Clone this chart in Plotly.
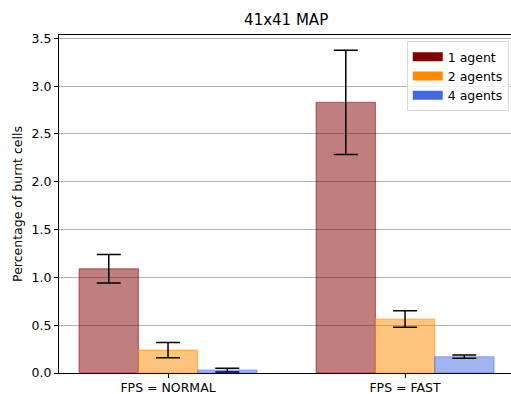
import plotly.graph_objects as go

categories = ["FPS = NORMAL", "FPS = FAST"]
series_names = ["1 agent", "2 agents", "4 agents"]
means = {
    "1 agent": [1.09, 2.83],
    "2 agents": [0.24, 0.565],
    "4 agents": [0.03, 0.17],
}
errors = {
    "1 agent": [0.15, 0.545],
    "2 agents": [0.08, 0.087],
    "4 agents": [0.02, 0.017],
}
colors = {
    "1 agent": (128, 0, 0),
    "2 agents": (255, 140, 0),
    "4 agents": (65, 105, 225),
}
bar_width = 0.25
offsets = [-0.375, -0.125, 0.125]

FS = 12.5
xpos = list(range(len(categories)))
fig = go.Figure()
for name, off in zip(series_names, offsets):
    r, g, b = colors[name]
    fig.add_trace(go.Bar(
        x=xpos, y=means[name], width=bar_width, offset=off,
        marker=dict(color=f"rgba({r},{g},{b},0.5)",
                    line=dict(color=f"rgba({r},{g},{b},0.5)", width=1.2)),
        error_y=dict(type="data", array=errors[name], color="black",
                     thickness=1.5, width=12),
        showlegend=False, name=name,
    ))
for name in series_names:
    r, g, b = colors[name]
    fig.add_trace(go.Scatter(x=[None], y=[None], name=name, mode="lines",
                             line=dict(color=f"rgb({r},{g},{b})", width=9)))

fig.update_layout(
    width=511, height=394,
    margin=dict(l=59, r=0, t=35, b=21),
    paper_bgcolor="white", plot_bgcolor="white",
    font=dict(family="DejaVu Sans", size=FS, color="black"),
    title=dict(text="41x41 MAP", x=0.56, xanchor="center", y=1 - 20 / 394, yanchor="middle",
               font=dict(size=15)),
    barmode="overlay",
    legend=dict(x=0.995, xanchor="right", y=0.982, yanchor="top",
                bgcolor="rgba(255,255,255,0.8)", bordercolor="#d9d9d9", borderwidth=1,
                font=dict(size=FS), tracegroupgap=0),
)
fig.update_xaxes(range=[-0.46, 1.447], tickvals=xpos, ticktext=categories,
                 showline=True, linecolor="black", linewidth=1, mirror=True,
                 ticks="outside", ticklen=4, tickcolor="black", showgrid=False,
                 zeroline=False, tickfont=dict(size=FS), automargin=False,
                 ticklabelstandoff=-1)
fig.update_yaxes(range=[0, 3.535], dtick=0.5, tickformat=".1f",
                 showline=True, linecolor="black", linewidth=1,
                 ticks="outside", ticklen=4, tickcolor="black",
                 showgrid=True, gridcolor="#b0b0b0", gridwidth=1, zeroline=False,
                 tickfont=dict(size=FS), automargin=False,
                 title=dict(text="Percentage of burnt cells", standoff=6, font=dict(size=FS)))

fig.write_html("out.html", post_script="document.body.style.margin='0';",
               config={"displayModeBar": False})
